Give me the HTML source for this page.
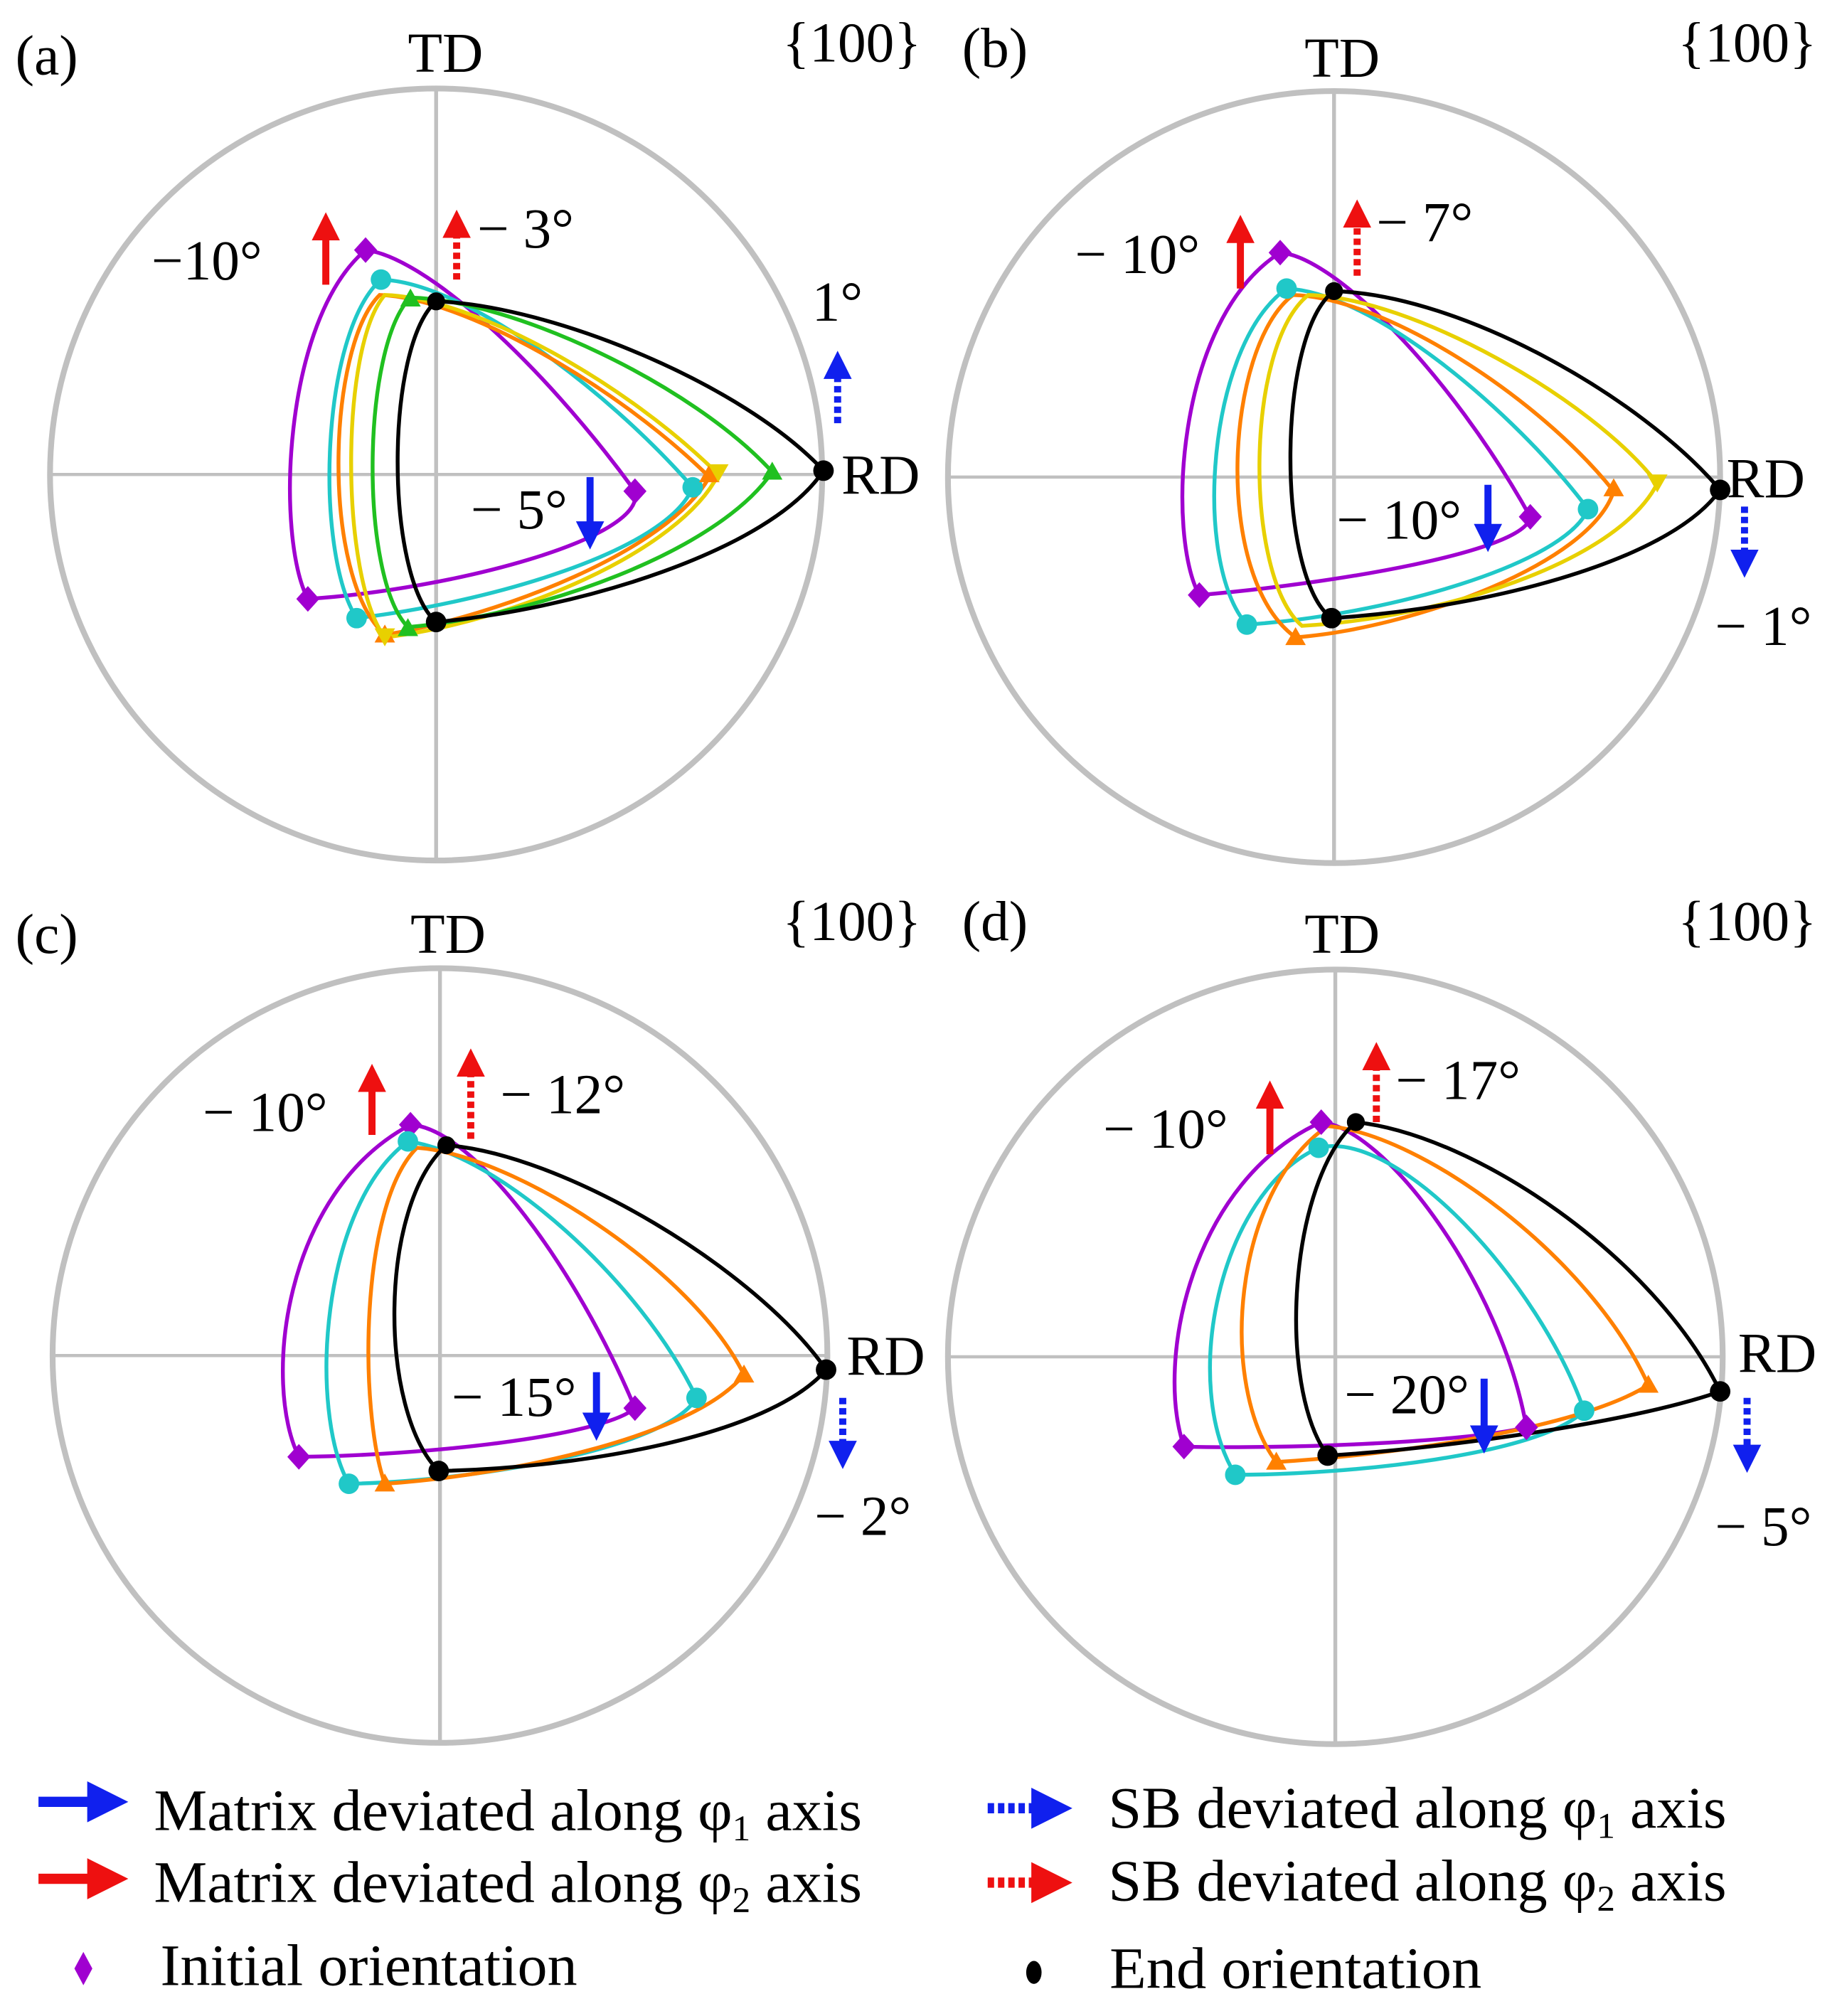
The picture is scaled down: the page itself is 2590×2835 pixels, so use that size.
<!DOCTYPE html>
<html><head><meta charset="utf-8"><style>html,body{margin:0;padding:0;background:#fff}svg{display:block}text{font-family:"Liberation Serif","Times New Roman",serif;fill:#000}</style></head><body>
<svg width="2590" height="2835" viewBox="0 0 1436 1572" preserveAspectRatio="none" xmlns="http://www.w3.org/2000/svg">
<defs>
<marker id="ab" markerWidth="4" markerHeight="4" refX="1" refY="2" orient="auto" markerUnits="strokeWidth"><path d="M0,0 L4,2 L0,4z" fill="#1020ee"/></marker>
<marker id="ar" markerWidth="4" markerHeight="4" refX="1" refY="2" orient="auto" markerUnits="strokeWidth"><path d="M0,0 L4,2 L0,4z" fill="#ee1010"/></marker>
</defs>
<g stroke="#c0c0c0" fill="none">
<circle cx="340" cy="370" r="301" stroke-width="4.5"/><line x1="37" y1="370" x2="643" y2="370" stroke-width="2.5"/><line x1="340" y1="69" x2="340" y2="671" stroke-width="3"/>
<circle cx="1040" cy="372" r="301" stroke-width="4.5"/><line x1="737" y1="372" x2="1343" y2="372" stroke-width="2.5"/><line x1="1040" y1="71" x2="1040" y2="673" stroke-width="3"/>
<circle cx="343" cy="1057" r="302" stroke-width="4.5"/><line x1="40" y1="1057" x2="645" y2="1057" stroke-width="2.5"/><line x1="343" y1="755" x2="343" y2="1359" stroke-width="3"/>
<circle cx="1041" cy="1058" r="302" stroke-width="4.5"/><line x1="738" y1="1058" x2="1343" y2="1058" stroke-width="2.5"/><line x1="1041" y1="756" x2="1041" y2="1360" stroke-width="3"/>
</g>
<g fill="none" stroke-width="3">
<path stroke="#a000d0" d="M285,195 C330,200 420,280 495,383 C505,420 350,460 240,467 C215,420 220,250 285,195Z"/>
<path stroke="#20c8c8" d="M297,218 C360,220 470,300 540,380 C520,430 380,470 278,482 C245,430 250,260 297,218Z"/>
<path stroke="#ff8000" d="M296,230 C360,232 480,300 553,372 C520,430 390,480 300,495 C250,450 255,270 296,230Z"/>
<path stroke="#e8d000" d="M300,230 C370,232 490,300 560,370 C530,430 400,485 300,497 C265,450 265,270 300,230Z"/>
<path stroke="#20c020" d="M320,232 C400,234 540,300 602,368 C560,430 420,480 318,489 C280,450 282,270 320,232Z"/>
<path stroke="#000" d="M340,235 C430,238 580,300 642,367 C600,430 450,475 340,485 C300,450 300,270 340,235Z"/>
<path stroke="#a000d0" d="M998,197 C1040,200 1130,290 1193,403 C1190,430 1040,455 935,464 C910,420 915,250 998,197Z"/>
<path stroke="#20c8c8" d="M1003,225 C1070,228 1180,320 1238,397 C1220,440 1080,480 972,487 C930,440 940,270 1003,225Z"/>
<path stroke="#ff8000" d="M1008,230 C1080,232 1200,310 1258,383 C1240,440 1100,490 1010,497 C945,450 955,270 1008,230Z"/>
<path stroke="#e8d000" d="M1020,230 C1100,232 1240,310 1292,377 C1260,440 1120,482 1015,488 C970,450 970,270 1020,230Z"/>
<path stroke="#000" d="M1040,227 C1140,230 1280,310 1341,382 C1300,440 1150,475 1038,482 C995,450 995,260 1040,227Z"/>
<path stroke="#a000d0" d="M320,877 C370,880 450,990 495,1098 C470,1120 330,1135 233,1136 C205,1080 220,930 320,877Z"/>
<path stroke="#20c8c8" d="M318,890 C390,900 500,1000 543,1090 C520,1130 370,1155 272,1157 C240,1100 250,940 318,890Z"/>
<path stroke="#ff8000" d="M325,895 C400,900 540,990 580,1072 C540,1120 400,1150 300,1157 C280,1100 280,940 325,895Z"/>
<path stroke="#000" d="M348,893 C440,900 590,990 644,1068 C600,1120 450,1145 342,1147 C295,1100 295,940 348,893Z"/>
<path stroke="#a000d0" d="M1030,875 C1080,880 1170,1000 1190,1113 C1140,1125 1000,1130 923,1128 C900,1060 930,920 1030,875Z"/>
<path stroke="#20c8c8" d="M1028,895 C1090,880 1200,1000 1235,1100 C1200,1135 1050,1150 963,1150 C920,1080 950,930 1028,895Z"/>
<path stroke="#ff8000" d="M1035,878 C1110,885 1240,980 1285,1080 C1230,1115 1080,1135 995,1140 C950,1080 960,930 1035,878Z"/>
<path stroke="#000" d="M1057,875 C1150,885 1290,980 1341,1085 C1270,1110 1120,1130 1035,1135 C995,1080 1005,920 1057,875Z"/>
</g>
<g>
<g fill="#a000d0"><path d="M285,185l9,10l-9,10l-9,-10z"/><path d="M495,373l9,10l-9,10l-9,-10z"/><path d="M240,457l9,10l-9,10l-9,-10z"/>
<path d="M998,187l9,10l-9,10l-9,-10z"/><path d="M1193,393l9,10l-9,10l-9,-10z"/><path d="M935,454l9,10l-9,10l-9,-10z"/>
<path d="M320,867l9,10l-9,10l-9,-10z"/><path d="M495,1088l9,10l-9,10l-9,-10z"/><path d="M233,1126l9,10l-9,10l-9,-10z"/>
<path d="M1030,865l9,10l-9,10l-9,-10z"/><path d="M1190,1103l9,10l-9,10l-9,-10z"/><path d="M923,1118l9,10l-9,10l-9,-10z"/></g>
<g fill="#20c8c8"><circle cx="297" cy="218" r="8"/><circle cx="540" cy="380" r="8"/><circle cx="278" cy="482" r="8"/><circle cx="1003" cy="225" r="8"/><circle cx="1238" cy="397" r="8"/><circle cx="972" cy="487" r="8"/><circle cx="318" cy="890" r="8"/><circle cx="543" cy="1090" r="8"/><circle cx="272" cy="1157" r="8"/><circle cx="1028" cy="895" r="8"/><circle cx="1235" cy="1100" r="8"/><circle cx="963" cy="1150" r="8"/></g>
<g fill="#ff8000"><path d="M553,362l8,14h-16z"/><path d="M1258,373l8,14h-16z"/><path d="M580,1064l8,14h-16z"/><path d="M1285,1072l8,14h-16z"/><path d="M300,487l8,14h-16z"/><path d="M1010,489l8,14h-16z"/><path d="M300,1149l8,14h-16z"/><path d="M995,1132l8,14h-16z"/></g>
<g fill="#e8d000"><path d="M552,362l16,0l-8,14z"/><path d="M1284,370l16,0l-8,14z"/><path d="M292,490l16,0l-8,14z"/></g>
<g fill="#20c020"><path d="M602,360l8,14h-16z"/><path d="M318,482l8,14h-16z"/><path d="M320,225l8,14h-16z"/></g>
<g fill="#000"><circle cx="340" cy="235" r="7"/><circle cx="642" cy="367" r="8"/><circle cx="340" cy="485" r="8"/>
<circle cx="1040" cy="227" r="7"/><circle cx="1341" cy="382" r="8"/><circle cx="1038" cy="482" r="8"/>
<circle cx="348" cy="893" r="7"/><circle cx="644" cy="1068" r="8"/><circle cx="342" cy="1147" r="8"/>
<circle cx="1057" cy="875" r="7"/><circle cx="1341" cy="1085" r="8"/><circle cx="1035" cy="1135" r="8"/></g>
</g>
<g stroke-width="5.5" fill="none">
<line x1="254" y1="222" x2="254" y2="182" stroke="#ee1010" marker-end="url(#ar)"/>
<line x1="356" y1="218" x2="356" y2="180" stroke="#ee1010" stroke-dasharray="5,3" marker-end="url(#ar)"/>
<line x1="653" y1="330" x2="653" y2="290" stroke="#1020ee" stroke-dasharray="5,3" marker-end="url(#ab)"/>
<line x1="460" y1="372" x2="460" y2="412" stroke="#1020ee" marker-end="url(#ab)"/>
<line x1="967" y1="225" x2="967" y2="184" stroke="#ee1010" marker-end="url(#ar)"/>
<line x1="1058" y1="215" x2="1058" y2="172" stroke="#ee1010" stroke-dasharray="5,3" marker-end="url(#ar)"/>
<line x1="1160" y1="378" x2="1160" y2="414" stroke="#1020ee" marker-end="url(#ab)"/>
<line x1="1360" y1="395" x2="1360" y2="434" stroke="#1020ee" stroke-dasharray="5,3" marker-end="url(#ab)"/>
<line x1="290" y1="885" x2="290" y2="846" stroke="#ee1010" marker-end="url(#ar)"/>
<line x1="367" y1="888" x2="367" y2="834" stroke="#ee1010" stroke-dasharray="5,3" marker-end="url(#ar)"/>
<line x1="465" y1="1070" x2="465" y2="1107" stroke="#1020ee" marker-end="url(#ab)"/>
<line x1="657" y1="1090" x2="657" y2="1129" stroke="#1020ee" stroke-dasharray="5,3" marker-end="url(#ab)"/>
<line x1="990" y1="900" x2="990" y2="859" stroke="#ee1010" marker-end="url(#ar)"/>
<line x1="1073" y1="875" x2="1073" y2="829" stroke="#ee1010" stroke-dasharray="5,3" marker-end="url(#ar)"/>
<line x1="1157" y1="1075" x2="1157" y2="1117" stroke="#1020ee" marker-end="url(#ab)"/>
<line x1="1362" y1="1090" x2="1362" y2="1132" stroke="#1020ee" stroke-dasharray="5,3" marker-end="url(#ab)"/>
<line x1="30" y1="1405" x2="76" y2="1405" stroke="#1020ee" stroke-width="8" marker-end="url(#ab)"/>
<line x1="30" y1="1465" x2="76" y2="1465" stroke="#ee1010" stroke-width="8" marker-end="url(#ar)"/>
<line x1="770" y1="1410" x2="812" y2="1410" stroke="#1020ee" stroke-width="8" stroke-dasharray="5,3" marker-end="url(#ab)"/>
<line x1="770" y1="1468" x2="812" y2="1468" stroke="#ee1010" stroke-width="8" stroke-dasharray="5,3" marker-end="url(#ar)"/>
</g>
<path d="M65,1522l7,13l-7,13l-7,-13z" fill="#a000d0"/>
<ellipse cx="806" cy="1538" rx="6" ry="9" fill="#000"/>
<g font-size="44">
<text x="12" y="58">(a)</text><text x="318" y="56">TD</text><text x="610" y="48">{100}</text><text x="656" y="385">RD</text>
<text x="118" y="218">−10°</text><text x="372" y="193">− 3°</text><text x="633" y="250">1°</text><text x="367" y="412">− 5°</text>
<text x="750" y="52">(b)</text><text x="1017" y="60">TD</text><text x="1308" y="48">{100}</text><text x="1346" y="388">RD</text>
<text x="838" y="213">− 10°</text><text x="1073" y="188">− 7°</text><text x="1042" y="420">− 10°</text><text x="1337" y="503">− 1°</text>
<text x="12" y="743">(c)</text><text x="320" y="743">TD</text><text x="610" y="733">{100}</text><text x="660" y="1072">RD</text>
<text x="158" y="882">− 10°</text><text x="390" y="868">− 12°</text><text x="352" y="1104">− 15°</text><text x="635" y="1197">− 2°</text>
<text x="750" y="733">(d)</text><text x="1017" y="743">TD</text><text x="1308" y="733">{100}</text><text x="1355" y="1070">RD</text>
<text x="860" y="895">− 10°</text><text x="1088" y="857">− 17°</text><text x="1048" y="1102">− 20°</text><text x="1337" y="1205">− 5°</text>
</g>
<g font-size="46">
<text x="120" y="1427" textLength="552" lengthAdjust="spacingAndGlyphs">Matrix deviated along φ<tspan font-size="28" dy="8">1</tspan><tspan dy="-8"> axis</tspan></text>
<text x="120" y="1483" textLength="552" lengthAdjust="spacingAndGlyphs">Matrix deviated along φ<tspan font-size="28" dy="8">2</tspan><tspan dy="-8"> axis</tspan></text>
<text x="125" y="1548" textLength="325" lengthAdjust="spacingAndGlyphs">Initial orientation</text>
<text x="864" y="1425" textLength="482" lengthAdjust="spacingAndGlyphs">SB deviated along φ<tspan font-size="28" dy="8">1</tspan><tspan dy="-8"> axis</tspan></text>
<text x="864" y="1482" textLength="482" lengthAdjust="spacingAndGlyphs">SB deviated along φ<tspan font-size="28" dy="8">2</tspan><tspan dy="-8"> axis</tspan></text>
<text x="865" y="1550" textLength="290" lengthAdjust="spacingAndGlyphs">End orientation</text>
</g>
</svg>
</body></html>
